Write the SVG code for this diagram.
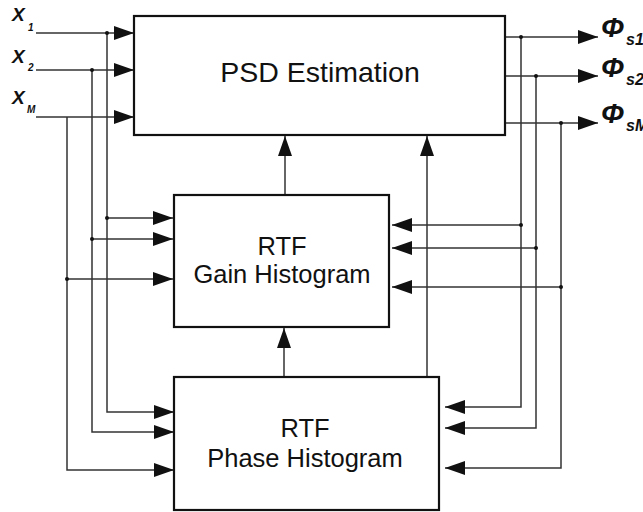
<svg xmlns="http://www.w3.org/2000/svg" width="643" height="512" viewBox="0 0 643 512">
<style>
.box{fill:#fff;stroke:#111;stroke-width:2.2}
.lbl{font-family:"Liberation Sans",Arial,sans-serif;fill:#111;text-anchor:middle}
.c{fill:none;stroke:#333;stroke-width:1.5}
.dot{fill:#111}
.sym{font-family:"Liberation Sans",Arial,sans-serif;font-weight:bold;font-style:italic;fill:#111}
</style>
<defs>
<marker id="ah" markerUnits="userSpaceOnUse" markerWidth="21" markerHeight="14" refX="20" refY="7" orient="auto">
<path d="M0,0 L20,7 L0,14 z" fill="#111"/>
</marker>
</defs>
<g id="connectors">
<path class="c" d="M36,33 H134" marker-end="url(#ah)"/>
<path class="c" d="M107,33 V412 H174" marker-end="url(#ah)"/>
<path class="c" d="M107,218 H173" marker-end="url(#ah)"/>
<path class="c" d="M36,70 H134" marker-end="url(#ah)"/>
<path class="c" d="M92,70 V432 H174" marker-end="url(#ah)"/>
<path class="c" d="M92,239 H173" marker-end="url(#ah)"/>
<path class="c" d="M36,117 H134" marker-end="url(#ah)"/>
<path class="c" d="M67,117 V470 H174" marker-end="url(#ah)"/>
<path class="c" d="M67,279 H173" marker-end="url(#ah)"/>
<path class="c" d="M505,37 H598" marker-end="url(#ah)"/>
<path class="c" d="M521,37 V407 H445" marker-end="url(#ah)"/>
<path class="c" d="M521,225 H392" marker-end="url(#ah)"/>
<path class="c" d="M505,76 H598" marker-end="url(#ah)"/>
<path class="c" d="M536,76 V428 H445" marker-end="url(#ah)"/>
<path class="c" d="M536,248 H392" marker-end="url(#ah)"/>
<path class="c" d="M505,123 H598" marker-end="url(#ah)"/>
<path class="c" d="M561,123 V468 H445" marker-end="url(#ah)"/>
<path class="c" d="M561,287 H392" marker-end="url(#ah)"/>
<path class="c" d="M285,195 V136" marker-end="url(#ah)"/>
<path class="c" d="M427,377 V136" marker-end="url(#ah)"/>
<path class="c" d="M284,377 V328" marker-end="url(#ah)"/>
<circle class="dot" cx="107" cy="33" r="2"/>
<circle class="dot" cx="92" cy="70" r="2"/>
<circle class="dot" cx="107" cy="218" r="2"/>
<circle class="dot" cx="92" cy="239" r="2"/>
<circle class="dot" cx="67" cy="279" r="2"/>
<circle class="dot" cx="521" cy="37" r="2"/>
<circle class="dot" cx="536" cy="76" r="2"/>
<circle class="dot" cx="561" cy="123" r="2"/>
<circle class="dot" cx="521" cy="225" r="2"/>
<circle class="dot" cx="536" cy="248" r="2"/>
<circle class="dot" cx="561" cy="287" r="2"/>
</g>
<g id="psd">
<rect class="box" x="134" y="16" width="371" height="119"/>
<text class="lbl" x="320" y="82" font-size="28.5">PSD Estimation</text>
</g>
<g id="gain">
<rect class="box" x="174" y="195" width="215" height="132"/>
<text class="lbl" x="282" y="255" font-size="25.5">RTF</text>
<text class="lbl" x="282" y="283" font-size="25.5">Gain Histogram</text>
</g>
<g id="phase">
<rect class="box" x="174" y="377" width="265" height="133"/>
<text class="lbl" x="305" y="437" font-size="25.5">RTF</text>
<text class="lbl" x="305" y="467" font-size="25.5">Phase Histogram</text>
</g>
<g id="inputs">
<text class="sym" x="12" y="21" font-size="19">X</text><text class="sym" x="28" y="31" font-size="10">1</text>
<text class="sym" x="12" y="63" font-size="19">X</text><text class="sym" x="28" y="71" font-size="10">2</text>
<text class="sym" x="12" y="104" font-size="19">X</text><text class="sym" x="27" y="113" font-size="10">M</text>
</g>
<g id="outputs">
<text class="sym" x="601" y="37" font-size="28">Φ</text><text class="sym" x="626" y="45" font-size="16">s1</text>
<text class="sym" x="601" y="77" font-size="28">Φ</text><text class="sym" x="626" y="85" font-size="16">s2</text>
<text class="sym" x="601" y="123" font-size="28">Φ</text><text class="sym" x="626" y="131" font-size="16">sM</text>
</g>
</svg>
